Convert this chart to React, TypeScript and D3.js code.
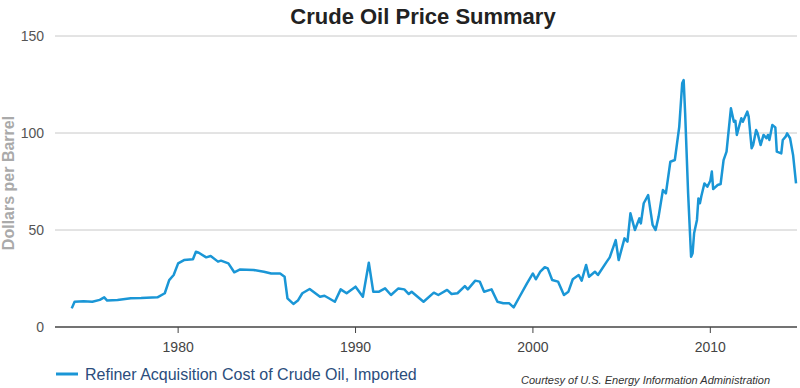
import React, { useEffect, useRef } from 'react';
import * as d3 from 'd3';

// monthly points (imported refiner acquisition cost, $/bbl)
const dates = [
  '1974-01', '1974-03', '1974-09', '1975-03', '1975-08', '1975-11', '1976-01', '1976-08',
  '1977-05', '1977-12', '1978-11', '1979-04', '1979-07', '1979-10', '1980-01', '1980-05',
  '1980-11', '1981-01', '1981-03', '1981-08', '1981-11', '1982-04', '1982-06', '1982-11',
  '1983-03', '1983-07', '1984-04', '1984-11', '1985-04', '1985-10', '1986-01', '1986-03',
  '1986-07', '1986-10', '1987-01', '1987-06', '1988-01', '1988-04', '1988-07', '1988-11',
  '1989-03', '1989-07', '1990-01', '1990-06', '1990-10', '1991-01', '1991-05', '1991-09',
  '1992-01', '1992-06', '1992-10', '1993-01', '1993-03', '1993-11', '1994-06', '1994-09',
  '1995-03', '1995-06', '1995-10', '1996-03', '1996-05', '1996-10', '1997-01', '1997-04',
  '1997-09', '1998-01', '1998-05', '1998-09', '1998-12', '1999-04', '1999-09', '2000-01',
  '2000-03', '2000-06', '2000-09', '2000-11', '2001-02', '2001-06', '2001-10', '2002-01',
  '2002-04', '2002-08', '2002-10', '2003-01', '2003-03', '2003-07', '2003-09', '2004-03',
  '2004-05', '2004-09', '2004-11', '2005-03', '2005-05', '2005-07', '2005-10', '2006-01',
  '2006-02', '2006-04', '2006-07', '2006-10', '2006-12', '2007-02', '2007-05', '2007-07',
  '2007-10', '2008-01', '2008-04', '2008-06', '2008-07', '2008-08', '2008-10', '2008-12',
  '2009-01', '2009-02', '2009-04', '2009-05', '2009-06', '2009-07', '2009-09', '2009-11',
  '2010-01', '2010-02', '2010-03', '2010-06', '2010-08', '2010-10', '2010-12', '2011-01',
  '2011-03', '2011-05', '2011-06', '2011-07', '2011-10', '2011-11', '2012-02', '2012-03',
  '2012-05', '2012-06', '2012-08', '2012-09', '2012-11', '2013-01', '2013-03', '2013-04',
  '2013-05', '2013-07', '2013-09', '2013-10', '2014-01', '2014-02', '2014-04', '2014-05',
  '2014-07', '2014-09', '2014-11',
];
const prices = [
  9.6, 13.0, 13.3, 13.0, 14.0, 15.3, 13.6, 13.9,
  14.8, 14.9, 15.3, 17.4, 24.2, 26.8, 32.8, 34.5,
  34.9, 38.8, 38.3, 35.9, 36.6, 33.7, 34.2, 32.8,
  28.2, 29.7, 29.4, 28.5, 27.6, 27.6, 25.9, 14.8,
  11.9, 13.6, 17.4, 19.6, 15.6, 16.1, 14.8, 13.0,
  19.4, 17.4, 20.8, 15.6, 33.1, 18.2, 18.2, 19.9,
  16.5, 19.9, 19.4, 17.0, 18.2, 13.0, 17.7, 16.5,
  19.1, 17.0, 17.4, 21.1, 19.4, 23.9, 23.4, 18.2,
  19.4, 13.0, 12.2, 12.2, 10.1, 15.6, 22.5, 27.6,
  24.6, 28.5, 30.8, 30.2, 24.2, 23.4, 16.5, 18.2,
  24.6, 26.8, 23.9, 32.0, 25.9, 28.5, 26.8, 33.7,
  35.9, 44.8, 34.5, 45.7, 44.0, 58.6, 50.0, 56.0,
  53.4, 63.8, 68.0, 52.6, 50.0, 56.9, 70.6, 68.9,
  85.2, 86.1, 103.2, 125.6, 127.3, 110.0, 68.9, 36.2,
  38.0, 48.3, 55.2, 66.3, 63.8, 67.5, 74.0, 72.3,
  75.4, 80.1, 71.1, 73.2, 73.7, 86.0, 90.4, 98.1,
  112.7, 105.8, 106.3, 99.0, 107.6, 105.8, 111.0, 108.4,
  92.1, 93.8, 101.5, 99.8, 93.8, 99.0, 97.3, 99.0,
  96.4, 104.1, 102.9, 90.4, 89.5, 96.4, 98.1, 99.8,
  97.3, 88.7, 74.0,
];
const yTicks = [0, 50, 100, 150];
const xTickYears = [1980, 1990, 2000, 2010];
const seriesName = 'Refiner Acquisition Cost of Crude Oil, Imported';
const credit = 'Courtesy of U.S. Energy Information Administration';

export default function App() {
  const ref = useRef<SVGSVGElement>(null);

  useEffect(() => {
    drawChart();
    // eslint-disable-next-line
  }, []);

  function drawChart() {
    const svg = d3.select(ref.current);
    svg.selectAll('*').remove();
    const font = 'Liberation Sans, Arial, Helvetica, sans-serif';
    const left = 55;
    const right = 797;

    const parse = d3.timeParse('%Y-%m');
    const data = dates.map((d, i) => ({ date: parse(d) as Date, value: prices[i] }));

    const x = d3
      .scaleTime()
      .domain([new Date(1973, 0, 1), new Date(2015, 0, 1)])
      .range([54, 799]);
    const y = d3.scaleLinear().domain([0, 150]).range([327, 36]);

    // title
    svg.append('text')
      .attr('x', 423)
      .attr('y', 24)
      .attr('text-anchor', 'middle')
      .style('font', `bold 22px ${font}`)
      .style('fill', '#222')
      .text('Crude Oil Price Summary');

    // gridlines + y labels
    svg.append('g')
      .selectAll('line')
      .data(yTicks.filter((t) => t > 0))
      .enter()
      .append('line')
      .attr('x1', left)
      .attr('x2', right)
      .attr('y1', (d) => y(d))
      .attr('y2', (d) => y(d))
      .attr('stroke', '#c8c8c8')
      .attr('stroke-width', 1);

    svg.append('g')
      .selectAll('text')
      .data(yTicks)
      .enter()
      .append('text')
      .attr('x', 44)
      .attr('y', (d) => y(d) + 5)
      .attr('text-anchor', 'end')
      .style('font', `14px ${font}`)
      .style('fill', '#555')
      .text((d) => d);

    svg.append('text')
      .attr('transform', `translate(14,183) rotate(-90)`)
      .attr('text-anchor', 'middle')
      .style('font', `bold 16px ${font}`)
      .style('fill', '#aaa')
      .text('Dollars per Barrel');

    // x axis baseline and ticks
    svg.append('line')
      .attr('x1', left)
      .attr('x2', right)
      .attr('y1', y(0))
      .attr('y2', y(0))
      .attr('stroke', '#444')
      .attr('stroke-width', 1.5);

    const xt = svg.append('g')
      .selectAll('g')
      .data(xTickYears)
      .enter()
      .append('g')
      .attr('transform', (d) => `translate(${x(new Date(d, 0, 1))},0)`);
    xt.append('line')
      .attr('y1', y(0))
      .attr('y2', y(0) + 6)
      .attr('stroke', '#444');
    xt.append('text')
      .attr('y', 352)
      .attr('text-anchor', 'middle')
      .style('font', `14px ${font}`)
      .style('fill', '#444')
      .text((d) => d);

    // price line
    const line = d3
      .line<{ date: Date; value: number }>()
      .x((d) => x(d.date))
      .y((d) => y(d.value));
    svg.append('path')
      .datum(data)
      .attr('fill', 'none')
      .attr('stroke', '#1a96d6')
      .attr('stroke-width', 2.5)
      .attr('stroke-linejoin', 'round')
      .attr('d', line);

    // legend
    svg.append('line')
      .attr('x1', 56)
      .attr('x2', 78)
      .attr('y1', 374)
      .attr('y2', 374)
      .attr('stroke', '#1a96d6')
      .attr('stroke-width', 3);
    svg.append('text')
      .attr('x', 85)
      .attr('y', 380)
      .style('font', `16px ${font}`)
      .style('fill', '#2b4d7c')
      .text(seriesName);

    svg.append('text')
      .attr('x', 770)
      .attr('y', 384)
      .attr('text-anchor', 'end')
      .style('font', `italic 11px ${font}`)
      .style('fill', '#333')
      .text(credit);
  }

  return (
    <svg
      ref={ref}
      width={800}
      height={388}
      style={{ position: 'absolute', left: 0, top: 0, background: '#fff' }}
    />
  );
}
